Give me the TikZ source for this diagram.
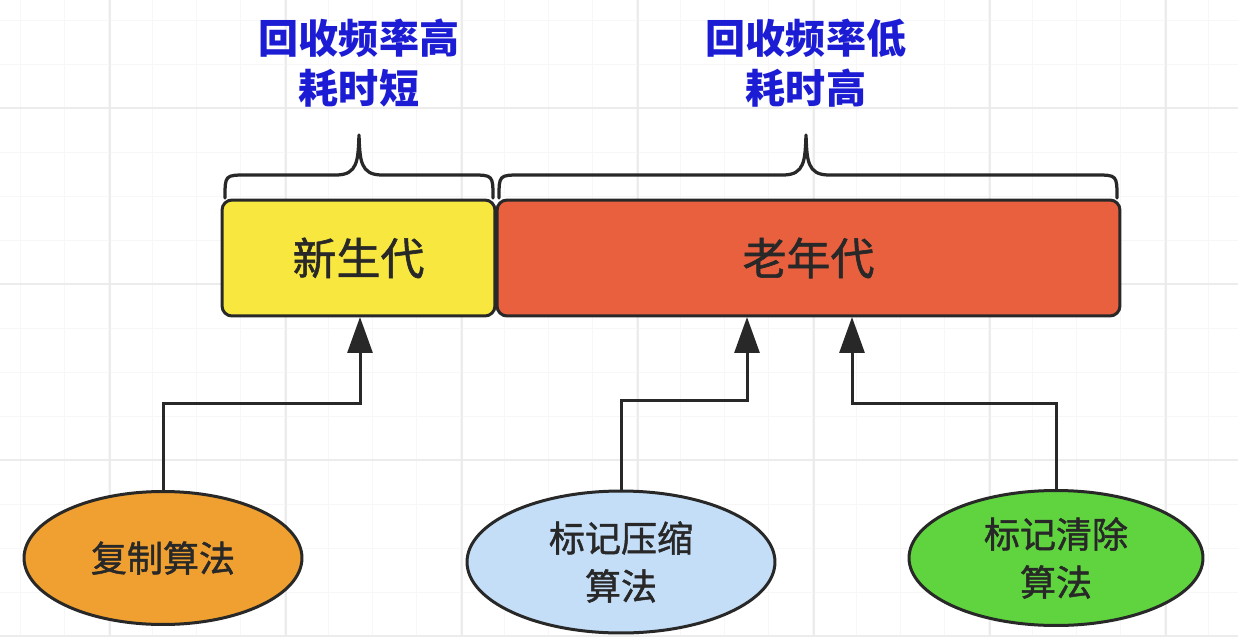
\documentclass[tikz,border=0pt]{standalone}
\usepackage{fontspec}
\setmainfont{Noto Sans CJK SC}
\newfontfamily\medfont[FakeBold=1.3]{Noto Sans CJK SC}
\usetikzlibrary{shapes.geometric,arrows.meta}
\definecolor{gridmaj}{RGB}{236,236,236}
\definecolor{gridmin}{RGB}{247,247,247}
\definecolor{yfill}{RGB}{247,231,62}
\definecolor{rfill}{RGB}{232,96,62}
\definecolor{ofill}{RGB}{240,160,48}
\definecolor{bfill}{RGB}{196,222,247}
\definecolor{gfill}{RGB}{95,212,62}
\definecolor{ink}{RGB}{40,40,40}
\definecolor{lbl}{RGB}{28,28,212}
\tikzset{
  genbox/.style={draw=ink, line width=0.06cm, rounded corners=0.2cm, inner sep=0pt,
    text=ink, font=\medfont\fontsize{25}{30}\selectfont},
  algo/.style={ellipse, draw=ink, line width=0.06cm, inner sep=0pt, text=ink,
    align=center, font=\medfont\fontsize{20.5}{27.3}\selectfont},
  conn/.style={draw=ink, line width=0.06cm, -{Triangle[width=0.5cm,length=0.72cm]}},
  bracestyle/.style={draw=ink, line width=0.065cm, line cap=round, line join=round},
  note/.style={text=lbl, align=center, font=\bfseries\fontsize{22.8}{28.5}\selectfont}
}
\begin{document}
\begin{tikzpicture}[x=0.02cm,y=-0.02cm]
\useasboundingbox (0,0) rectangle (1238,636);
\fill[white] (0,0) rectangle (1238,636);
% grid
\foreach \g in {20,64,...,1238} \draw[gridmin, line width=0.02cm] (\g,0) -- (\g,636);
\foreach \g in {20,64,...,636} \draw[gridmin, line width=0.02cm] (0,\g) -- (1238,\g);
\foreach \g in {110,286,...,1238} \draw[gridmaj, line width=0.03cm] (\g,0) -- (\g,636);
\foreach \g in {108,284,...,636} \draw[gridmaj, line width=0.03cm] (0,\g) -- (1238,\g);

% generation boxes
\node[genbox, fill=yfill, minimum width=5.46cm, minimum height=2.32cm] (young) at (358.5,258) {新生代};
\node[genbox, fill=rfill, minimum width=12.46cm, minimum height=2.32cm] (old) at (808.5,258) {老年代};

% braces
\draw[bracestyle] (225,198) .. controls (225,175) .. (247,175) -- (336,175)
  .. controls (358,175) and (358,160) .. (359,135)
  .. controls (360,160) and (360,175) .. (382,175) -- (471,175)
  .. controls (493,175) .. (493,198);
\draw[bracestyle] (499,198) .. controls (499,175) .. (521,175) -- (783,175)
  .. controls (805,175) and (805,160) .. (806,135)
  .. controls (807,160) and (807,175) .. (829,175) -- (1095,175)
  .. controls (1117,175) .. (1117,198);

% notes
\node[note] (n1) at (359,63) {回收频率高\\耗时短};
\node[note] (n2) at (806,63) {回收频率低\\耗时高};

% algorithms
\node[algo, fill=ofill, minimum width=5.56cm, minimum height=2.66cm] (e1) at (163,558) {复制算法};
\node[algo, fill=bfill, minimum width=6.16cm, minimum height=2.84cm] (e2) at (621,562) {标记压缩\\算法};
\node[algo, fill=gfill, minimum width=5.88cm, minimum height=2.70cm] (e3) at (1056,558) {标记清除\\算法};

% connector anchors
\coordinate (k1) at (360,403);
\coordinate (t1) at (360,317);
\coordinate (k2) at (747,400);
\coordinate (t2) at (747,317);
\coordinate (k3) at (852,403);
\coordinate (t3) at (852,317);

\draw[conn] (e1.north) |- (k1) -- (t1);
\draw[conn] (e2.north) |- (k2) -- (t2);
\draw[conn] (e3.north) |- (k3) -- (t3);
\end{tikzpicture}
\end{document}
